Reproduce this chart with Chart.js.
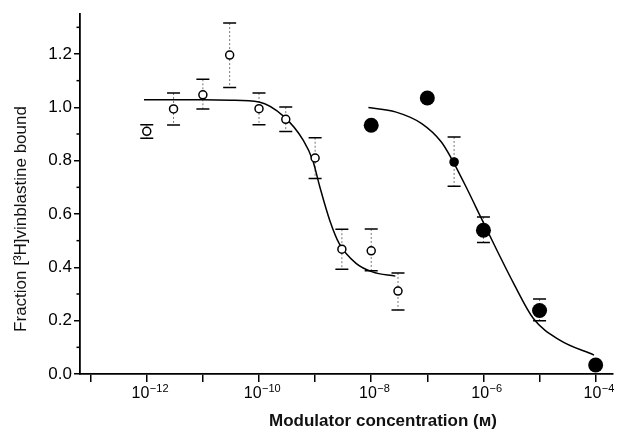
<!DOCTYPE html>
<html>
<head>
<meta charset="utf-8">
<script src="https://cdn.jsdelivr.net/npm/chart.js@4/dist/chart.umd.min.js"></script>
<style>
    html, body { margin: 0; padding: 0; background: #fff; }
</style>
</head>
<body>
<canvas id="chart" width="620" height="434"></canvas>
<script>
// open circles: concentration (M), fraction bound and error bar ends
var openConc = [1e-12, 3e-12, 1e-11, 3e-11, 1e-10, 3e-10, 1e-9, 3e-9, 1e-8, 3e-8];
var openFrac = [0.91, 0.994, 1.047, 1.196, 0.995, 0.955, 0.81, 0.468, 0.462, 0.311];
var openHigh = [0.935, 1.054, 1.105, 1.316, 1.054, 1.001, 0.886, 0.543, 0.544, 0.379];
var openLow = [0.884, 0.934, 0.994, 1.074, 0.935, 0.909, 0.733, 0.393, 0.387, 0.24];

// filled circles
var filledConc = [1e-8, 1e-7, 3e-7, 1e-6, 1e-5, 1e-4];
var filledFrac = [0.933, 1.035, 0.795, 0.539, 0.238, 0.034];
var filledHigh = [null, null, 0.889, 0.589, 0.281, null];
var filledLow = [null, null, 0.704, 0.493, 0.2, null];
var filledRadius = [7.5, 7.5, 4.8, 7.5, 7.5, 7.5];

// fitted curves (log10 of concentration, fraction)
var fitOpenLog = [-12.05, -11.5, -11, -10.5, -10, -9.56, -9.21, -9.04, -8.92, -8.74, -8.57, -8.27, -7.98, -7.57];
var fitOpenFrac = [1.028, 1.028, 1.028, 1.027, 1.02, 0.966, 0.876, 0.8, 0.705, 0.577, 0.489, 0.415, 0.383, 0.367];
var fitFilledLog = [-8.05, -7.57, -7.1, -6.75, -6.57, -6.28, -6.05, -5.76, -5.46, -5.11, -4.64, -4.03];
var fitFilledFrac = [0.999, 0.983, 0.939, 0.87, 0.808, 0.689, 0.589, 0.464, 0.339, 0.208, 0.127, 0.071];

// axes
var xDecades = [-13, -12, -11, -10, -9, -8, -7, -6, -5, -4];
var xLabelDecades = [-12, -10, -8, -6, -4];
var yTicks = [0, 0.1, 0.2, 0.3, 0.4, 0.5, 0.6, 0.7, 0.8, 0.9, 1.0, 1.1, 1.2, 1.3];
var xTitle = 'Modulator concentration (\u1D0D)';
var yTitle = 'Fraction [\u00B3H]vinblastine bound';

var FONT = "'Liberation Sans', Arial, 'DejaVu Sans', sans-serif";

function isMajorY(v) {
    return Math.round(v * 10) % 2 === 0;
}

function pts(xs, ys) {
    return xs.map(function (x, i) { return { x: x, y: ys[i] }; });
}

function logPts(es, ys) {
    return es.map(function (e, i) { return { x: Math.pow(10, e), y: ys[i] }; });
}

// error bars, minor y ticks, power-of-ten labels and axis titles
var decorPlugin = {
    id: 'decor',
    beforeDatasetsDraw: function (chart) {
        var ctx = chart.ctx, xs = chart.scales.x, ys = chart.scales.y;
        function bars(conc, hi, lo) {
            conc.forEach(function (c, i) {
                if (hi[i] === null) return;
                var px = xs.getPixelForValue(c);
                var top = ys.getPixelForValue(hi[i]);
                var bot = ys.getPixelForValue(lo[i]);
                ctx.save();
                ctx.strokeStyle = '#777';
                ctx.lineWidth = 1;
                ctx.setLineDash([2, 2]);
                ctx.beginPath();
                ctx.moveTo(px, top);
                ctx.lineTo(px, bot);
                ctx.stroke();
                ctx.setLineDash([]);
                ctx.strokeStyle = '#000';
                ctx.lineWidth = 1.5;
                ctx.beginPath();
                ctx.moveTo(px - 6.5, top); ctx.lineTo(px + 6.5, top);
                ctx.moveTo(px - 6.5, bot); ctx.lineTo(px + 6.5, bot);
                ctx.stroke();
                ctx.restore();
            });
        }
        bars(openConc, openHigh, openLow);
        bars(filledConc, filledHigh, filledLow);
    },
    afterDraw: function (chart) {
        var ctx = chart.ctx, xs = chart.scales.x, ys = chart.scales.y, area = chart.chartArea;
        ctx.save();
        ctx.strokeStyle = '#000';
        ctx.lineWidth = 1.5;
        yTicks.forEach(function (v) {
            if (isMajorY(v)) return;
            var py = ys.getPixelForValue(v);
            ctx.beginPath();
            ctx.moveTo(area.left - 3.5, py);
            ctx.lineTo(area.left, py);
            ctx.stroke();
        });

        // 10 with a raised exponent under each labelled decade
        ctx.fillStyle = '#000';
        ctx.textBaseline = 'alphabetic';
        ctx.textAlign = 'left';
        xLabelDecades.forEach(function (e) {
            var px = xs.getPixelForValue(Math.pow(10, e));
            var base = '10', exp = '\u2212' + Math.abs(e);
            ctx.font = '16px ' + FONT;
            var wb = ctx.measureText(base).width;
            ctx.font = '11px ' + FONT;
            var we = ctx.measureText(exp).width;
            var x0 = px - (wb + we) / 2 + 3;
            ctx.font = '16px ' + FONT;
            ctx.fillText(base, x0, 398);
            ctx.font = '11px ' + FONT;
            ctx.fillText(exp, x0 + wb + 0.5, 392);
        });

        ctx.fillStyle = '#111';
        ctx.font = 'bold 17px ' + FONT;
        ctx.textAlign = 'center';
        ctx.textBaseline = 'middle';
        ctx.fillText(xTitle, 383, 421);
        ctx.translate(21, 219);
        ctx.rotate(-Math.PI / 2);
        ctx.font = '17px ' + FONT;
        ctx.fillText(yTitle, 0, 0);
        ctx.restore();
    }
};

new Chart(document.getElementById('chart').getContext('2d'), {
    type: 'scatter',
    data: {
        datasets: [
            {
                label: 'open', data: pts(openConc, openFrac), order: 0,
                pointStyle: 'circle', pointRadius: 4, pointBorderWidth: 1.5,
                pointBackgroundColor: '#fff', pointBorderColor: '#000'
            },
            {
                label: 'filled', data: pts(filledConc, filledFrac), order: 0,
                pointStyle: 'circle', pointRadius: filledRadius, pointBorderWidth: 0,
                pointBackgroundColor: '#000', pointBorderColor: '#000'
            },
            {
                type: 'line', label: 'fit open', data: logPts(fitOpenLog, fitOpenFrac), order: 1,
                borderColor: '#000', borderWidth: 1.5, pointRadius: 0, cubicInterpolationMode: 'monotone', fill: false
            },
            {
                type: 'line', label: 'fit filled', data: logPts(fitFilledLog, fitFilledFrac), order: 1,
                borderColor: '#000', borderWidth: 1.5, pointRadius: 0, cubicInterpolationMode: 'monotone', fill: false
            }
        ]
    },
    options: {
        responsive: false,
        animation: false,
        devicePixelRatio: 1,
        layout: { padding: { top: 14, right: 0, left: 0, bottom: 0 } },
        plugins: { legend: { display: false }, tooltip: { enabled: false } },
        scales: {
            x: {
                type: 'logarithmic',
                min: Math.pow(10, -13.19),
                max: Math.pow(10, -3.7),
                afterBuildTicks: function (scale) {
                    scale.ticks = xDecades.map(function (e) { return { value: Math.pow(10, e) }; });
                },
                afterFit: function (scale) { scale.height = 60; },
                border: { display: true, color: '#000', width: 1.8 },
                grid: { drawOnChartArea: false, drawTicks: true, tickLength: 8, color: '#000', lineWidth: 1.5 },
                ticks: {
                    autoSkip: false, maxRotation: 0,
                    callback: function () { return ''; }
                }
            },
            y: {
                min: 0,
                max: 1.35,
                afterBuildTicks: function (scale) {
                    scale.ticks = yTicks.map(function (v) { return { value: v }; });
                },
                afterFit: function (scale) { scale.width = 80; },
                border: { display: true, color: '#000', width: 1.8 },
                grid: {
                    drawOnChartArea: false, drawTicks: true, tickLength: 6, lineWidth: 1.5,
                    color: function (c) { return c.tick && isMajorY(c.tick.value) ? '#000' : 'rgba(0,0,0,0)'; }
                },
                ticks: {
                    padding: 2, color: '#000',
                    font: { size: 17, family: FONT },
                    callback: function (value) { return isMajorY(value) ? value.toFixed(1) : ''; }
                }
            }
        }
    },
    plugins: [decorPlugin]
});
</script>
</body>
</html>
